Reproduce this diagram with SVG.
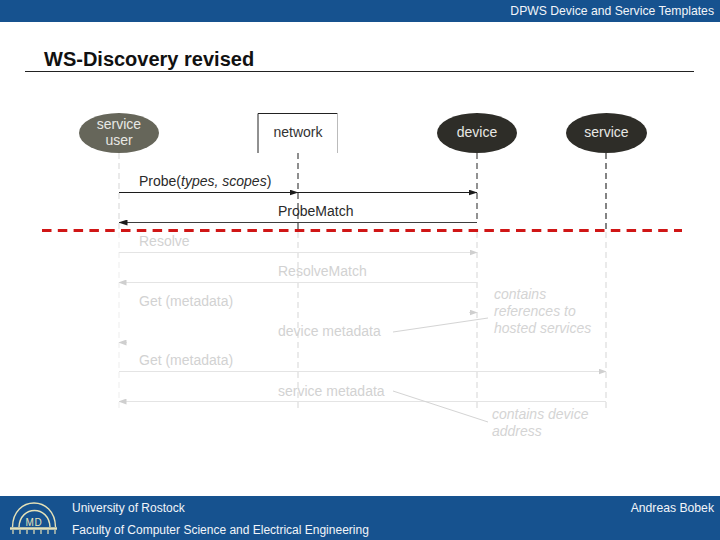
<svg xmlns="http://www.w3.org/2000/svg" width="720" height="540" viewBox="0 0 720 540">
<style>
text{font-family:"Liberation Sans",Arial,sans-serif}
.bar{fill:#16528f}
.hf{font-size:12.200px;fill:#f2f5f9}
.hl{font-size:12px;fill:#f2f5f9}
.lbl{font-size:14px;fill:#2a2a2a}
.node{font-size:14px;fill:#e8e8e4;text-anchor:middle}
.fade{font-size:14px;fill:#d2d2d2}
.fadei{font-size:14px;fill:#d4d4d4;font-style:italic}
.msg{stroke:#1c1c1c;stroke-width:1;fill:none}
.fl{stroke:#e4e4e4;stroke-width:1;fill:none}
.ln{stroke-dasharray:6 4;fill:none}
.top{stroke:#444;stroke-width:1.200}
.low{stroke:#dcdcdc;stroke-width:1.200}
.logo{fill:none;stroke:#e6e2b8;stroke-width:1.400}
</style>
<defs>
<marker id="a" markerWidth="9" markerHeight="6" refX="8.500" refY="3" orient="auto" markerUnits="userSpaceOnUse"><path d="M0 0L9 3L0 6Z" fill="#1c1c1c"/></marker>
<marker id="b" markerWidth="8" markerHeight="6" refX="7.500" refY="3" orient="auto" markerUnits="userSpaceOnUse"><path d="M0 0L8 3L0 6Z" fill="#cfcfcf"/></marker>
</defs>
<rect id="header" class="bar" width="720" height="22"/>
<text class="hf" x="714" y="15" text-anchor="end">DPWS Device and Service Templates</text>
<g id="title">
<text x="44" y="66" font-size="20" font-weight="700" fill="#111">WS-Discovery revised</text>
<path d="M25 71.500H694" stroke="#222" stroke-width="1"/>
</g>
<g id="connectors">
<path class="ln top" d="M119 153V230" style="stroke:#ddd"/>
<path class="ln top" d="M298 153V230"/>
<path class="ln top" d="M477 153V222" style="stroke:#777;stroke-width:1.600"/>
<path class="ln top" d="M606 153V230" style="stroke:#333"/>
<path class="ln low" d="M119 232V410" style="stroke:#f0f0f0"/>
<path class="ln low" d="M298 232V412"/>
<path class="ln low" d="M477 232V412"/>
<path class="ln low" d="M606 232V412"/>
<path class="msg" d="M119 192.500H298" marker-end="url(#a)"/>
<path class="msg" d="M298 192.500H477" marker-end="url(#a)"/>
<path class="msg" d="M477 222.500H119" stroke-opacity=".85" marker-end="url(#a)"/>
<path class="fl" d="M119 252.500H477" marker-end="url(#b)"/>
<path class="fl" d="M477 282.500H119" marker-end="url(#b)"/>
<path class="fl" d="M469 312.500H477" marker-end="url(#b)"/>
<path class="fl" d="M127 342.500H119" marker-end="url(#b)"/>
<path class="fl" d="M119 371.500H606" marker-end="url(#b)"/>
<path class="fl" d="M606 401.500H119" marker-end="url(#b)"/>
<path d="M393 332L488 318M393 391L488 422" stroke="#d4d4d4" stroke-width="1" fill="none"/>
</g>
<g id="node-service-user">
<ellipse cx="119" cy="133" rx="40" ry="20" fill="#66665a"/>
<text class="node" x="119" y="129">service</text>
<text class="node" x="119" y="145">user</text>
</g>
<g id="node-network">
<path d="M258 153V113.500H337.500" fill="none" stroke="#222" stroke-width="1"/>
<path d="M337.500 113.500V153" fill="none" stroke="#bbb" stroke-width="1"/>
<text x="298" y="137" font-size="14" fill="#333" text-anchor="middle">network</text>
</g>
<g id="node-device">
<ellipse cx="477" cy="133" rx="40" ry="20" fill="#2e2d28"/>
<text class="node" x="477" y="137">device</text>
</g>
<g id="node-service">
<ellipse cx="606.500" cy="133" rx="40.500" ry="20" fill="#2e2d28"/>
<text class="node" x="606.500" y="137">service</text>
</g>
<g id="labels">
<text class="lbl" x="139" y="186">Probe(<tspan font-style="italic">types, scopes</tspan>)</text>
<text class="lbl" x="278" y="216">ProbeMatch</text>
<text class="fade" x="139" y="246">Resolve</text>
<text class="fade" x="278" y="276">ResolveMatch</text>
<text class="fade" x="139" y="306">Get (metadata)</text>
<text class="fade" x="278" y="336">device metadata</text>
<text class="fade" x="139" y="365">Get (metadata)</text>
<text class="fade" x="278" y="396">service metadata</text>
<text class="fadei" x="494" y="299">contains</text>
<text class="fadei" x="494" y="316">references to</text>
<text class="fadei" x="494" y="333">hosted services</text>
<text class="fadei" x="492" y="419">contains device</text>
<text class="fadei" x="492" y="436">address</text>
</g>
<path id="cut" d="M42 230.500H682" stroke="#d01616" stroke-width="3" stroke-dasharray="9.500 6.300" fill="none"/>
<rect id="footer" class="bar" y="496" width="720" height="44"/>
<g id="logo">
<path class="logo" d="M12.500 527C13 495 55 495 55.500 527M19 527C20 505 49 505 50 527"/>
<path d="M10 528.500H57" stroke="#e6e2b8" stroke-width="2.500"/>
<path d="M13 530V534M20 530V534M27 530V534M34 530V534M41 530V534M48 530V534M55 530V534" stroke="#e6e2b8" stroke-width="1.200"/>
<text x="34" y="526" font-size="10" letter-spacing=".6" fill="#e6e2b8" text-anchor="middle">MD</text>
</g>
<text class="hl" x="72" y="512">University of Rostock</text>
<text class="hl" x="72" y="534">Faculty of Computer Science and Electrical Engineering</text>
<text class="hf" x="714" y="512" text-anchor="end">Andreas Bobek</text>
</svg>
